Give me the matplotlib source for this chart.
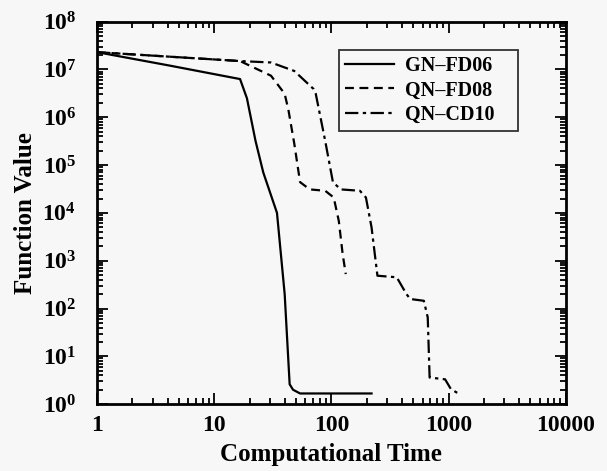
import matplotlib
matplotlib.use("Agg")
import matplotlib.pyplot as plt
from matplotlib.ticker import LogLocator, NullFormatter, FixedLocator

plt.rcParams["font.family"] = ["Liberation Serif", "DejaVu Serif"]
plt.rcParams["font.weight"] = "bold"
plt.rcParams["mathtext.fontset"] = "custom"
plt.rcParams["mathtext.rm"] = "Liberation Serif:bold"
plt.rcParams["mathtext.it"] = "Liberation Serif:bold"
plt.rcParams["mathtext.bf"] = "Liberation Serif:bold"

# GN-FD06 (solid)
gn_t = [1, 4.2, 16.6, 19, 22.5, 26.2, 34.3, 39.9, 44, 47, 54, 220]
gn_f = [2.3e7, 1.2e7, 6.3e6, 2.5e6, 3.2e5, 7e4, 1e4, 200, 2.6, 2.0, 1.67, 1.67]

# QN-FD08 (dashed)
qf_t = [1, 16.6, 30.5, 39.9, 43, 48.2, 54, 65.3, 88.5, 104.6, 115.6, 124.7, 132.5]
qf_f = [2.3e7, 1.5e7, 7.4e6, 3.1e6, 1.4e6, 2.8e5, 4.4e4, 3.1e4, 2.9e4, 2.1e4, 6.8e3, 1380, 525]

# QN-CD10 (dash-dot)
qc_t = [1, 16.6, 30.5, 48.2, 70.5, 73.5, 88.5, 103, 120, 175, 197, 220, 247,
        361, 437, 471, 615, 664, 689, 934, 1047, 1265]
qc_f = [2.3e7, 1.5e7, 1.4e7, 9.3e6, 3.9e6, 3.1e6, 3.2e5, 4.4e4, 3.1e4, 2.9e4, 2.1e4,
        5e3, 485, 450, 200, 158, 145, 65, 3.6, 3.3, 2.06, 1.57]

x_ticks = [1, 10, 100, 1000, 10000]
x_labels = ["1", "10", "100", "1000", "10000"]

fig = plt.figure(figsize=(6.07, 4.71), dpi=100, facecolor="#f7f7f7")
ax = fig.add_axes([0.16, 0.142, 0.772, 0.812])
ax.set_facecolor("#f7f7f7")

ax.plot(gn_t, gn_f, color="black", lw=1.6, ls="-", label="GN\u2013FD06")
ax.plot(qf_t, qf_f, color="black", lw=1.6, ls=(0, (4, 2.5)), label="QN\u2013FD08")
ax.plot(qc_t, qc_f, color="black", lw=1.6, ls=(0, (6, 2, 1.5, 2)), label="QN\u2013CD10")

ax.set_xscale("log")
ax.set_yscale("log")
ax.set_xlim(1, 10000)
ax.set_ylim(1, 1e8)
ax.xaxis.set_major_locator(FixedLocator(x_ticks))
ax.set_xticklabels(x_labels)
ax.yaxis.set_major_locator(LogLocator(base=10, numticks=20))
ax.xaxis.set_minor_locator(LogLocator(base=10, subs=range(2, 10), numticks=20))
ax.yaxis.set_minor_locator(LogLocator(base=10, subs=range(2, 10), numticks=20))
ax.yaxis.set_minor_formatter(NullFormatter())
ax.xaxis.set_minor_formatter(NullFormatter())

ax.tick_params(which="both", direction="in", top=True, right=True, width=1.3)
ax.tick_params(which="major", length=8, labelsize=17)
ax.tick_params(axis="x", which="major", pad=8)
ax.tick_params(axis="y", which="major", pad=15)
ax.tick_params(which="minor", length=4)
for s in ax.spines.values():
    s.set_linewidth(2)

ax.set_xlabel("Computational Time", fontsize=18, fontweight="bold", labelpad=5)
ax.set_ylabel("Function Value", fontsize=18, fontweight="bold", labelpad=4)

leg = ax.legend(loc="upper left", bbox_to_anchor=(0.517, 0.0, 0.381, 0.926),
                mode="expand", fontsize=14.5,
                frameon=True, fancybox=False, edgecolor="black",
                handlelength=2.4, handletextpad=0.55, borderpad=0.3,
                labelspacing=0.22, borderaxespad=0)
leg.get_frame().set_linewidth(1.3)
leg.get_frame().set_facecolor("#f7f7f7")

fig.savefig("out.png", dpi=100, facecolor=fig.get_facecolor())
